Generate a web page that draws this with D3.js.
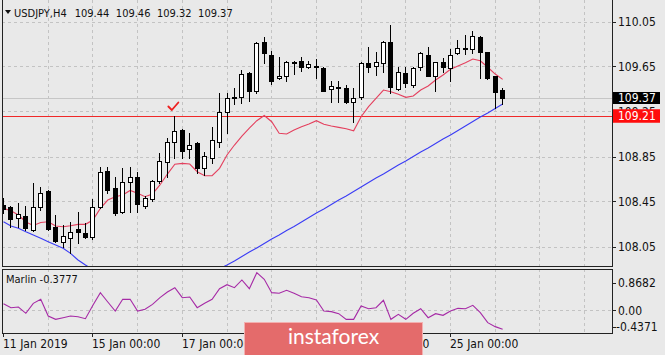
<!DOCTYPE html>
<html><head><meta charset="utf-8">
<script src="https://cdn.jsdelivr.net/npm/d3@7/dist/d3.min.js"></script>
<style>
html,body{margin:0;padding:0;background:#e9e9e9;overflow:hidden;}
svg{display:block;font-family:"DejaVu Sans Condensed","DejaVu Sans",sans-serif;}
</style></head><body>
<svg id="chart" width="665" height="355"></svg>
<script>
// ---------------- data ----------------
const symbol = "USDJPY,H4";
const opens = [108.419,108.401,108.303,108.321,108.197,108.401,108.543,108.223,108.090,108.125,
108.205,108.170,108.134,108.401,108.721,108.570,108.357,108.623,108.668,108.410,
108.472,108.632,108.801,108.979,109.085,108.917,108.970,108.748,108.837,108.979,
109.245,109.370,109.379,109.592,109.432,109.868,109.752,109.548,109.565,109.685,
109.699,109.645,109.654,109.637,109.450,109.470,109.459,109.334,109.379,109.681,
109.654,109.681,109.868,109.450,109.592,109.485,109.645,109.752,109.565,109.690,
109.637,109.770,109.805,109.805,109.912,109.779,109.565,109.440];
const highs = [108.481,108.410,108.437,108.410,108.614,108.579,108.552,108.330,108.241,108.268,
108.357,108.259,108.472,108.757,108.757,108.668,108.748,108.757,108.712,108.499,
108.641,108.881,109.014,109.210,109.094,109.059,108.979,108.890,109.112,109.414,
109.414,109.459,109.619,109.601,109.868,109.912,109.788,109.734,109.699,109.699,
109.734,109.699,109.717,109.645,109.521,109.521,109.485,109.459,109.690,109.823,
109.779,109.877,110.019,109.645,109.645,109.645,109.779,109.823,109.690,109.725,
109.805,109.885,109.930,109.965,109.921,109.779,109.565,109.460];
const lows = [108.348,108.223,108.223,108.197,108.188,108.374,108.197,108.090,108.045,107.992,
108.081,108.125,108.117,108.392,108.525,108.330,108.348,108.357,108.357,108.392,
108.454,108.614,108.668,108.837,108.837,108.837,108.703,108.685,108.792,108.934,
109.059,109.317,109.325,109.343,109.414,109.681,109.494,109.539,109.521,109.583,
109.610,109.637,109.548,109.432,109.334,109.334,109.325,109.157,109.361,109.601,
109.574,109.601,109.414,109.441,109.468,109.468,109.619,109.565,109.432,109.601,
109.521,109.761,109.761,109.770,109.548,109.539,109.281,109.320];
const closes = [108.383,108.294,108.339,108.214,108.401,108.525,108.205,108.099,108.143,108.179,
108.179,108.134,108.401,108.712,108.552,108.348,108.623,108.668,108.428,108.481,
108.632,108.810,108.979,109.077,108.899,108.952,108.748,108.854,108.997,109.245,
109.370,109.379,109.583,109.432,109.859,109.770,109.521,109.565,109.690,109.690,
109.645,109.672,109.645,109.432,109.477,109.461,109.334,109.370,109.681,109.645,
109.690,109.868,109.468,109.601,109.503,109.637,109.770,109.565,109.690,109.645,
109.752,109.814,109.814,109.921,109.779,109.548,109.423,109.370];
const maRed = [108.389,108.368,108.330,108.268,108.237,108.263,108.270,108.232,108.226,108.235,
108.247,108.247,108.285,108.389,108.463,108.493,108.508,108.548,108.523,108.493,
108.517,108.597,108.694,108.781,108.789,108.783,108.715,108.679,108.679,108.745,
108.863,108.952,109.032,109.103,109.168,109.214,109.159,109.056,109.050,109.085,
109.115,109.139,109.168,109.136,109.121,109.109,109.097,109.079,109.204,109.293,
109.367,109.441,109.426,109.403,109.376,109.388,109.441,109.477,109.530,109.574,
109.625,109.654,109.684,109.717,109.701,109.643,109.583,109.536];
const maBlue = [108.270,108.232,108.212,108.181,108.152,108.123,108.093,108.063,108.034,107.989,
107.930,107.885,107.845,107.810,107.779,107.752,107.730,107.712,107.699,107.690,
107.685,107.685,107.690,107.699,107.712,107.734,107.761,107.792,107.823,107.854,
107.885,107.921,107.961,108.001,108.037,108.077,108.117,108.152,108.192,108.228,
108.268,108.308,108.348,108.383,108.423,108.463,108.499,108.539,108.579,108.619,
108.659,108.694,108.734,108.774,108.810,108.850,108.890,108.925,108.965,109.005,
109.041,109.081,109.121,109.161,109.201,109.237,109.277,109.317];
const marlin = [0.153,0.060,0.076,-0.070,0.161,0.253,-0.132,-0.209,-0.171,-0.132,
-0.148,-0.194,0.114,0.407,0.191,-0.017,0.253,0.253,-0.017,0.022,
0.137,0.291,0.422,0.522,0.291,0.307,0.060,0.161,0.253,0.499,
0.592,0.522,0.700,0.499,0.8682,0.715,0.407,0.392,0.461,0.392,
0.314,0.291,0.238,-0.017,-0.032,-0.078,-0.209,-0.209,0.099,0.037,
0.060,0.230,-0.209,-0.094,-0.209,-0.070,0.037,-0.171,-0.078,-0.117,
-0.017,0.045,0.037,0.114,-0.055,-0.286,-0.3777,-0.4371];
const marlinShown = -0.3777;
const priceTicks = [108.05,108.45,108.85,109.25,109.65,110.05];
const marlinTicks = [0.8682, 0.00, -0.4371];
const timeLabels = ["11 Jan 2019","15 Jan 00:00","17 Jan 00:00","21 Jan 00:00","23 Jan 00:00","25 Jan 00:00"];
const timeLabelBars = [0,12,24,36,48,60];
const levelLine = 109.21;
const markBar = 23;

// ---------------- layout ----------------
const svg = d3.select("#chart");
const L = 2, R = 612, mainTop = 0, mainBot = 266, indTop = 269, indBot = 333;
const n = opens.length;
const x = d3.scaleLinear().domain([0, 60]).range([3, 450]);
const y = d3.scaleLinear().domain([108.05, 110.05]).range([246.5, 21.5]);
const ym = d3.scaleLinear().domain([-0.4371, 0.8682]).range([329.2, 272.7]);
const cx = i => Math.round(x(i));
const ry = v => Math.round(y(v));

svg.append("rect").attr("width",665).attr("height",355).attr("fill","#e9e9e9");

const defs = svg.append("defs");
defs.append("clipPath").attr("id","clipMain").append("rect")
  .attr("x",L+1).attr("y",mainTop).attr("width",R-L-1).attr("height",mainBot-mainTop);
defs.append("clipPath").attr("id","clipInd").append("rect")
  .attr("x",L+1).attr("y",indTop+1).attr("width",R-L-1).attr("height",indBot-indTop-1);

const gridColor = "#c3c3c3";
// vertical grid bars
const gridBars = d3.range(6, 200, 6).filter(b => x(b) < R - 2);
[[mainTop, mainBot],[indTop, indBot]].forEach(([t,b]) => {
  svg.append("g").selectAll("line").data(gridBars).join("line")
    .attr("x1", d => cx(d)+0.5).attr("x2", d => cx(d)+0.5)
    .attr("y1", t).attr("y2", b)
    .attr("stroke", gridColor).attr("stroke-dasharray","3,3");
});
// horizontal grid
svg.append("g").selectAll("line").data(priceTicks).join("line")
  .attr("x1", L).attr("x2", R)
  .attr("y1", d => Math.round(y(d))+0.5).attr("y2", d => Math.round(y(d))+0.5)
  .attr("stroke", gridColor).attr("stroke-dasharray","3,3");
svg.append("line").attr("x1",L).attr("x2",R)
  .attr("y1", Math.round(ym(0))+0.5).attr("y2", Math.round(ym(0))+0.5)
  .attr("stroke", gridColor).attr("stroke-dasharray","3,3");

// bid line
const lastClose = closes[n-1];
svg.append("line").attr("x1",L).attr("x2",R)
  .attr("y1", ry(lastClose)+0.5).attr("y2", ry(lastClose)+0.5)
  .attr("stroke","#c6c6c6").attr("stroke-width",1.2);
// level line
svg.append("line").attr("x1",L).attr("x2",R)
  .attr("y1", ry(levelLine)+0.5).attr("y2", ry(levelLine)+0.5)
  .attr("stroke","#f02828").attr("stroke-width",1);

// moving averages
const gMain = svg.append("g").attr("clip-path","url(#clipMain)");
const lineGen = arr => d3.line().x((d,i)=>x(i)+0.5).y(d=>y(d))(arr);
gMain.append("path").attr("d", lineGen(maBlue)).attr("fill","none")
  .attr("stroke","#3a3cf5").attr("stroke-width",1.1);
gMain.append("path").attr("d", lineGen(maRed)).attr("fill","none")
  .attr("stroke","#e4405e").attr("stroke-width",1.1);

// candles
const gC = gMain.append("g").attr("shape-rendering","crispEdges");
const idx = d3.range(n);
gC.selectAll("line").data(idx).join("line")
  .attr("x1", i=>cx(i)+0.5).attr("x2", i=>cx(i)+0.5)
  .attr("y1", i=>ry(highs[i])).attr("y2", i=>ry(lows[i])+1)
  .attr("stroke","#000");
gC.selectAll("rect").data(idx).join("rect")
  .attr("x", i=>cx(i)-1.5).attr("width",4)
  .attr("y", i=>ry(Math.max(opens[i],closes[i]))+0.5)
  .attr("height", i=>Math.max(ry(Math.min(opens[i],closes[i]))-ry(Math.max(opens[i],closes[i])),1))
  .attr("fill", i=> closes[i] >= opens[i] ? "#ffffff" : "#000000")
  .attr("stroke","#000");

// check mark
const mx = x(markBar), my = y(highs[markBar]);
svg.append("path")
  .attr("d", `M${mx-6},${my-9.5} L${mx-2.5},${my-6} L${mx+4},${my-13.5}`)
  .attr("fill","none").attr("stroke","#ee2020").attr("stroke-width",1.8)
  .attr("stroke-linecap","round").attr("stroke-linejoin","round");

// marlin line
svg.append("g").attr("clip-path","url(#clipInd)").append("path")
  .attr("d", d3.line().x((d,i)=>x(i)+0.5).y(d=>ym(d))(marlin))
  .attr("fill","none").attr("stroke","#a62aa6").attr("stroke-width",1.1);

// frames
const frame = svg.append("g").attr("fill","none").attr("stroke","#222").attr("shape-rendering","crispEdges");
frame.append("line").attr("x1",L+0.5).attr("x2",L+0.5).attr("y1",mainTop).attr("y2",mainBot+1);
frame.append("line").attr("x1",R+0.5).attr("x2",R+0.5).attr("y1",mainTop).attr("y2",mainBot+1);
frame.append("line").attr("x1",L).attr("x2",R+1).attr("y1",mainBot+0.5).attr("y2",mainBot+0.5);
frame.append("rect").attr("x",L+0.5).attr("y",indTop+0.5).attr("width",R-L).attr("height",indBot-indTop);

// right axis: prices
const fontAxis = 12;
const ax = svg.append("g").attr("font-size",fontAxis).attr("fill","#111");
ax.selectAll("line").data(priceTicks).join("line")
  .attr("x1",R).attr("x2",R+4)
  .attr("y1", d=>Math.round(y(d))+0.5).attr("y2", d=>Math.round(y(d))+0.5)
  .attr("stroke","#222");
ax.selectAll("text").data(priceTicks).join("text")
  .attr("x", R+6).attr("y", d=>y(d)).attr("dy","0.36em")
  .text(d=>d.toFixed(2));

// price boxes
function priceBox(v, bg, h) {
  const cy = y(v);
  svg.append("rect").attr("x",R+1).attr("y",cy-h/2).attr("width",47).attr("height",h).attr("fill",bg);
  svg.append("text").attr("x",R+6).attr("y",cy).attr("dy","0.36em")
    .attr("font-size",fontAxis).attr("fill","#fff").text(v.toFixed(2));
}
priceBox(lastClose, "#000", 12);
priceBox(levelLine, "#ff0d0d", 13.5);

// right axis: marlin
const mLabelY = v => Math.min(Math.max(ym(v), indTop+14), indBot-6.5);
const am = svg.append("g").attr("font-size",fontAxis).attr("fill","#111");
am.selectAll("line").data(marlinTicks).join("line")
  .attr("x1",R).attr("x2",R+4)
  .attr("y1", d=>Math.round(mLabelY(d))+0.5).attr("y2", d=>Math.round(mLabelY(d))+0.5)
  .attr("stroke","#222");
am.selectAll("text").data(marlinTicks).join("text")
  .attr("x", d => d < 0 ? R+4 : R+6).attr("y", d=>mLabelY(d)).attr("dy","0.36em")
  .text(d => d === 0 ? "0.00" : d.toString());

// time axis
const at = svg.append("g").attr("font-size",fontAxis).attr("fill","#111");
at.selectAll("line").data(timeLabelBars).join("line")
  .attr("x1", d=>cx(d)+0.5).attr("x2", d=>cx(d)+0.5)
  .attr("y1", indBot).attr("y2", indBot+4).attr("stroke","#222");
at.selectAll("text").data(timeLabelBars).join("text")
  .attr("x", d=>cx(d)).attr("y", 348)
  .text((d,i)=>timeLabels[i]);

// header
const hdr = svg.append("g").attr("font-size",11).attr("fill","#111");
hdr.append("path").attr("d","M5,10 L11,10 L8,14 Z").attr("fill","#111");
let hx = 14;
const t0 = hdr.append("text").attr("x",hx).attr("y",17).text(symbol);
hx += t0.node().getComputedTextLength() + 8;
[opens[n-1], highs[n-1], lows[n-1], closes[n-1]].forEach(v => {
  const t = hdr.append("text").attr("x",hx).attr("y",17).text(v.toFixed(2));
  hx += t.node().getComputedTextLength() + 6.5;
});
svg.append("text").attr("x",6).attr("y",283).attr("font-size",11).attr("fill","#111")
  .text("Marlin " + marlinShown.toFixed(4));

// logo
const logo = svg.append("g");
logo.append("rect").attr("x",244.5).attr("y",322.5).attr("width",178).attr("height",40)
  .attr("fill","#e46b6b").attr("stroke","#f3b0b0");
logo.append("text").attr("x",333.5).attr("y",344).attr("text-anchor","middle")
  .attr("font-family","Lato, 'Open Sans', sans-serif").attr("font-size",21)
  .attr("fill","#fff").text("instaforex");
</script>
</body></html>
